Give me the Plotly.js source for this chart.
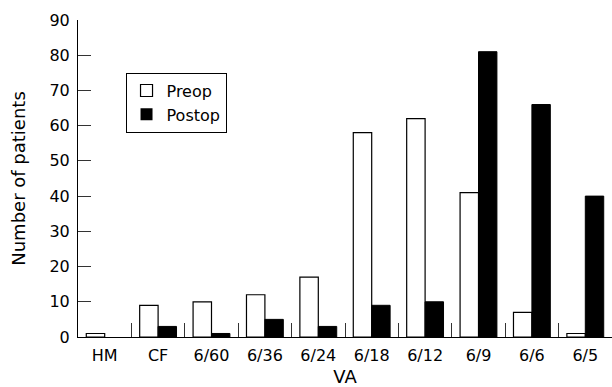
<!DOCTYPE html>
<html>
<head>
<meta charset="utf-8">
<script src="https://cdn.plot.ly/plotly-3.0.1.min.js"></script>
<style>html,body{margin:0;padding:0;background:#fff;}#chart{width:612px;height:387px;}</style>
</head>
<body>
<div id="chart"></div>
<script>
var categories = ["HM", "CF", "6/60", "6/36", "6/24", "6/18", "6/12", "6/9", "6/6", "6/5"];
var preop = [1, 9, 10, 12, 17, 58, 62, 41, 7, 1];
var postop = [0, 3, 1, 5, 3, 9, 10, 81, 66, 40];
var yTicks = [0, 10, 20, 30, 40, 50, 60, 70, 80, 90];

var font = "DejaVu Sans, sans-serif";

var traces = [
  {
    type: "bar", name: "Preop", x: categories, y: preop,
    marker: {color: "#ffffff", line: {color: "#000000", width: preop.map(function (v) { return v > 0 ? 1.2 : 0; })}}
  },
  {
    type: "bar", name: "Postop", x: categories, y: postop,
    marker: {color: "#000000", line: {color: "#000000", width: postop.map(function (v) { return v > 0 ? 1 : 0; })}}
  }
];

var layout = {
  width: 612, height: 387,
  margin: {l: 78, r: 0, t: 20, b: 50},
  paper_bgcolor: "#ffffff", plot_bgcolor: "#ffffff",
  barmode: "group", bargap: 0.31, bargroupgap: 0,
  font: {family: font, color: "#000000", size: 16},
  showlegend: true,
  legend: {
    x: 0.089, y: 0.834, xanchor: "left", yanchor: "top",
    bordercolor: "#000000", borderwidth: 1, bgcolor: "#ffffff",
    font: {family: font, size: 16, color: "#000000"},
    traceorder: "normal"
  },
  xaxis: {
    type: "category", range: [-0.5, 9.5],
    showline: true, linecolor: "#000000", linewidth: 1,
    ticks: "inside", tickson: "boundaries", ticklen: 14, tickcolor: "#333333", tickwidth: 1,
    showgrid: false, zeroline: false, fixedrange: true,
    tickfont: {family: font, size: 16},
    ticklabelstandoff: 4,
    title: {text: "VA", font: {family: font, size: 18}, standoff: 10}
  },
  yaxis: {
    range: [0, 90], tickvals: yTicks, ticktext: yTicks.map(String),
    showline: true, linecolor: "#000000", linewidth: 1,
    ticks: "inside", ticklen: 13, tickcolor: "#333333", tickwidth: 1,
    showgrid: false, zeroline: false, fixedrange: true,
    tickfont: {family: font, size: 16},
    ticklabelstandoff: 4,
    title: {text: "Number of patients", font: {family: font, size: 18}, standoff: 19}
  }
};

Plotly.newPlot("chart", traces, layout, {staticPlot: true, displayModeBar: false});
</script>
</body>
</html>
